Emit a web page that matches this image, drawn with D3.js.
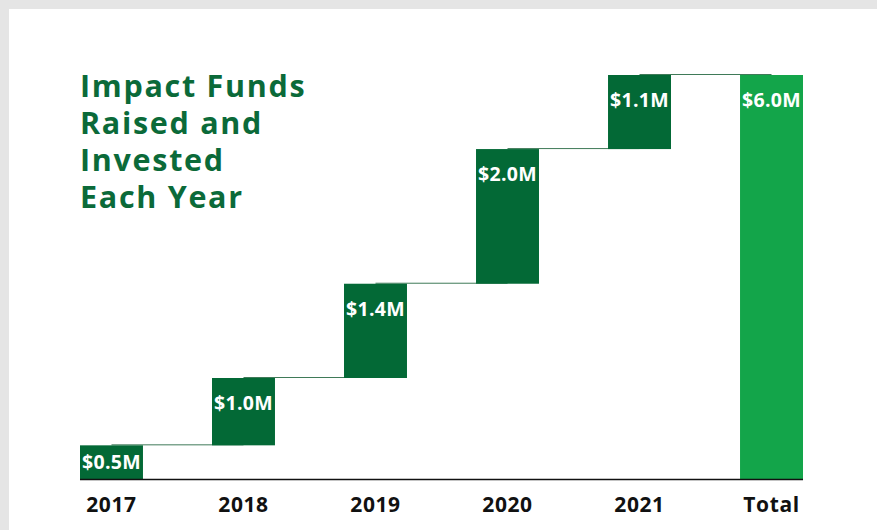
<!DOCTYPE html>
<html>
<head>
<meta charset="utf-8">
<script src="https://cdn.jsdelivr.net/npm/d3@7"></script>
<style>
  html, body { margin: 0; padding: 0; background: #e5e5e5; }
  svg { display: block; }
</style>
</head>
<body>
<svg id="chart" width="877" height="530"></svg>
<script>
// Funds raised per year (millions of dollars) and the running total
const categories = ["2017", "2018", "2019", "2020", "2021", "Total"];
const yearValues = [0.5, 1.0, 1.4, 2.0, 1.1];
const valueLabels = ["$0.5M", "$1.0M", "$1.4M", "$2.0M", "$1.1M", "$6.0M"];
const titleLines = ["Impact Funds", "Raised and", "Invested", "Each Year"];

const darkGreen = "#036936";
const totalGreen = "#13a54a";
const titleGreen = "#0b6a39";
const fontFamily = "'Open Sans', 'Noto Sans', sans-serif";

const svg = d3.select("#chart");
const W = 877, H = 530;

// white card
svg.append("rect").attr("x", 9).attr("y", 9).attr("width", W).attr("height", H)
  .attr("fill", "#ffffff");

// waterfall segments: each year starts where the previous ended; the total starts at 0
let running = 0;
const segments = yearValues.map((v, i) => {
  const s = { key: categories[i], start: running, end: running + v, total: false, label: valueLabels[i] };
  running += v;
  return s;
});
segments.push({ key: "Total", start: 0, end: running, total: true, label: valueLabels[5] });

const x = d3.scaleBand().domain(categories).range([80, 803])
  .paddingInner(0.523).paddingOuter(0);
const y = d3.scaleLinear().domain([0, 6.0]).range([479, 75]);

// connectors between successive bar tops (drawn under the bars)
const conn = svg.append("g");
segments.slice(0, -1).forEach((d, i) => {
  const nxt = segments[i + 1];
  conn.append("line")
    .attr("x1", x(d.key) + x.bandwidth() / 2)
    .attr("x2", x(nxt.key) + x.bandwidth() / 2)
    .attr("y1", y(d.end) - 0.5).attr("y2", y(d.end) - 0.5)
    .attr("stroke", "#3f7a58").attr("stroke-width", 1);
});

// bars
svg.append("g").selectAll("rect").data(segments).join("rect")
  .attr("x", d => x(d.key))
  .attr("width", x.bandwidth())
  .attr("y", d => y(d.end))
  .attr("height", d => y(d.start) - y(d.end))
  .attr("fill", d => d.total ? totalGreen : darkGreen);

// value labels near the top of each bar
svg.append("g").selectAll("text").data(segments).join("text")
  .attr("x", d => x(d.key) + x.bandwidth() / 2)
  .attr("y", d => {
    const top = y(d.end), bottom = y(d.start);
    return Math.min(top + 32, (top + bottom) / 2 + 6.5);
  })
  .attr("text-anchor", "middle")
  .attr("fill", "#ffffff")
  .attr("font-family", fontFamily)
  .attr("font-weight", 700)
  .attr("font-size", 19.5)
  .attr("letter-spacing", 0.3)
  .text(d => d.label);

// baseline axis
const axis = svg.append("g").attr("transform", `translate(0,${y(0)})`)
  .call(d3.axisBottom(x).tickSize(0).tickPadding(18));
axis.select(".domain").attr("stroke", "#111").attr("stroke-width", 1.6)
  .attr("d", `M80,0.5H803`);
axis.selectAll(".tick text")
  .attr("fill", "#111")
  .attr("font-family", fontFamily)
  .attr("font-weight", 700)
  .attr("font-size", 21)
  .attr("letter-spacing", 0.6)
  .attr("dy", "0.71em");

// title
const title = svg.append("text")
  .attr("fill", titleGreen)
  .attr("font-family", fontFamily)
  .attr("font-weight", 700)
  .attr("font-size", 30.5)
  .attr("letter-spacing", 1.7);
titleLines.forEach((t, i) => {
  title.append("tspan").attr("x", 80).attr("y", 97 + i * 37).text(t);
});
</script>
</body>
</html>
